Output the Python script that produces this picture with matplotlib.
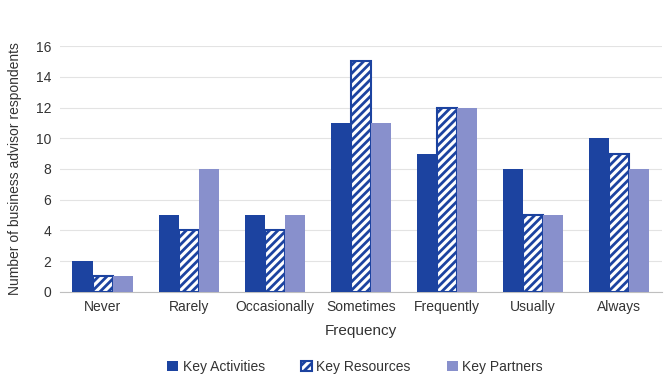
import numpy as np
import matplotlib
matplotlib.use("Agg")
import matplotlib.pyplot as plt

categories = ["Never", "Rarely", "Occasionally", "Sometimes", "Frequently", "Usually", "Always"]
key_activities = [2, 5, 5, 11, 9, 8, 10]
key_resources = [1, 4, 4, 15, 12, 5, 9]
key_partners = [1, 8, 5, 11, 12, 5, 8]

dark_blue = "#1c43a0"
light_blue = "#8890cc"

plt.rcParams["font.family"] = ["Liberation Sans", "DejaVu Sans"]
plt.rcParams["hatch.linewidth"] = 2.0

fig = plt.figure(figsize=(6.72, 3.81), dpi=100)
ax = fig.add_axes([0.089, 0.234, 0.896, 0.645])

x = np.arange(len(categories))
w = 0.235
ax.bar(x - w, key_activities, w, color=dark_blue, label="Key Activities", zorder=3)
ax.bar(x, key_resources, w, color="white", edgecolor=dark_blue, hatch="////",
       linewidth=1.5, label="Key Resources", zorder=3)
ax.bar(x + w, key_partners, w, color=light_blue, label="Key Partners", zorder=3)

ax.set_xlim(-0.5, len(categories) - 0.5)
ax.set_ylim(0, 16)
ax.set_yticks(range(0, 17, 2))
ax.set_xticks(x)
ax.set_xticklabels(categories)
ax.yaxis.grid(True, color="#e3e3e3", linewidth=0.8, zorder=0)
ax.set_axisbelow(True)
for s in ["top", "right", "left"]:
    ax.spines[s].set_visible(False)
ax.spines["bottom"].set_color("#bfbfbf")
ax.tick_params(axis="both", length=0, labelsize=10, colors="#333333", pad=6)
ax.set_xlabel("Frequency", fontsize=11, color="#333333", labelpad=7)
ax.set_ylabel("Number of business advisor respondents", fontsize=10, color="#333333", labelpad=10)

ax.legend(loc="lower center", bbox_to_anchor=(0.49, -0.385), ncol=3, frameon=False,
          fontsize=10, handlelength=0.8, handleheight=0.8, columnspacing=2.6,
          handletextpad=0.3, labelcolor="#333333")

fig.savefig("out.png", dpi=100)
